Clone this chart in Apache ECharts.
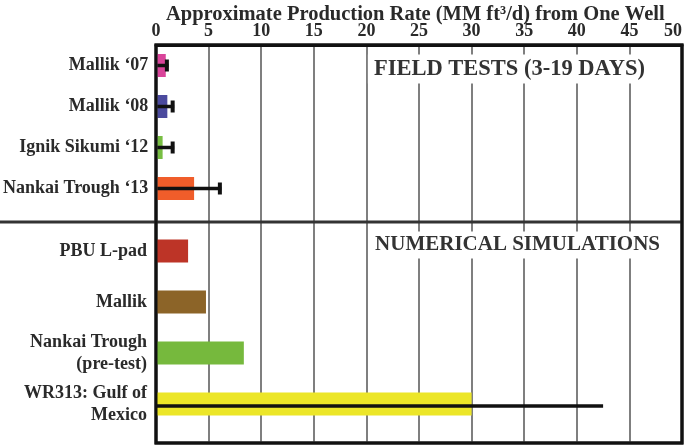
<!DOCTYPE html>
<html>
<head>
<meta charset="utf-8">
<script src="https://cdn.jsdelivr.net/npm/echarts@6/dist/echarts.min.js"></script>
<style>html,body{margin:0;padding:0;background:#fff}#c{width:685px;height:446px}</style>
</head>
<body>
<div id="c"></div>
<script>
// ---- data ----
var fieldCats = ['Mallik \u201807', 'Mallik \u201808', 'Ignik Sikumi \u201812', 'Nankai Trough \u201813'];
var fieldVals = [0.8, 0.95, 0.5, 3.5];
var fieldErrHigh = [1.05, 1.6, 1.6, 6.1];
var simCats = ['PBU L-pad', 'Mallik', 'Nankai Trough\n(pre-test)', 'WR313: Gulf of\nMexico'];
var simVals = [3.05, 4.75, 8.35, 30];
var simErrHigh = [null, null, null, 42.5];
var xTicks = [0, 5, 10, 15, 20, 25, 30, 35, 40, 45, 50];
var title = 'Approximate Production Rate (MM ft\u00B3/d) from One Well';
var panelTop = 'FIELD TESTS (3-19 DAYS)';
var panelBottom = 'NUMERICAL SIMULATIONS';

// ---- styles ----
var fieldColors = ['#d9449a', '#4b4a9e', '#78be43', '#f05d2a'];
var simColors = ['#bd3427', '#8c6428', '#76b93d', '#ece628'];
var FONT = '"Liberation Serif", "Times New Roman", serif';

function bars(vals, colors) {
  return vals.map(function (v, i) { return { value: v, itemStyle: { color: colors[i] } }; });
}
function errData(errs) {
  var out = [];
  errs.forEach(function (e, i) { if (e != null) out.push([e, i]); });
  return out;
}
function errRender(withCap, dy) {
  return function (params, api) {
    var yi = api.value(1);
    var p0 = api.coord([0, yi]);
    var p1 = api.coord([api.value(0), yi]);
    var y = p0[1] + dy;
    var children = [{
      type: 'line',
      shape: { x1: p0[0], y1: y, x2: p1[0], y2: y },
      style: { stroke: '#111', lineWidth: 3.5 }
    }];
    if (withCap) {
      children.push({
        type: 'line',
        shape: { x1: p1[0] - 1.5, y1: y - 6, x2: p1[0] - 1.5, y2: y + 6 },
        style: { stroke: '#111', lineWidth: 4 }
      });
    }
    return { type: 'group', children: children };
  };
}

var chart = echarts.init(document.getElementById('c'), null, { renderer: 'canvas' });
var catLabel = { fontFamily: FONT, fontWeight: 'bold', fontSize: 18, color: '#2a2a2a', margin: 9, lineHeight: 22 };

chart.setOption({
  backgroundColor: '#fff',
  animation: false,
  title: {
    text: title, left: 161, top: -1,
    textStyle: { fontFamily: FONT, fontWeight: 'bold', fontSize: 20.5, color: '#2a2a2a' }
  },
  grid: [
    { left: 156, right: 3, top: 45, bottom: 3, show: true, borderColor: '#111', borderWidth: 3, backgroundColor: '#fff' },
    { left: 156, right: 3, top: 45, height: 164 },
    { left: 156, right: 3, top: 225.5, height: 204 }
  ],
  xAxis: [
    {
      gridIndex: 0, type: 'value', min: 0, max: 50, interval: 5, position: 'top',
      axisLine: { show: true, onZero: false, lineStyle: { color: '#111', width: 3 } }, axisTick: { show: false },
      axisLabel: {
        fontFamily: FONT, fontWeight: 'bold', fontSize: 18, color: '#2a2a2a', margin: 5,
        alignMaxLabel: 'right',
        formatter: function (v) { return xTicks.indexOf(v) >= 0 ? String(v) : ''; }
      },
      splitLine: { show: true, lineStyle: { color: '#555', width: 1.5 } }
    },
    { gridIndex: 1, type: 'value', min: 0, max: 50, show: false },
    { gridIndex: 2, type: 'value', min: 0, max: 50, show: false }
  ],
  yAxis: [
    { gridIndex: 0, type: 'value', min: 0, max: 1, show: false },
    {
      gridIndex: 1, type: 'category', inverse: true, data: fieldCats,
      axisLine: { show: false }, axisTick: { show: false }, axisLabel: catLabel, splitLine: { show: false }
    },
    {
      gridIndex: 2, type: 'category', inverse: true, data: simCats,
      axisLine: { show: false }, axisTick: { show: false }, axisLabel: catLabel, splitLine: { show: false }
    }
  ],
  graphic: [
    { type: 'rect', shape: { x: 156, y: 45, width: 526, height: 398 }, style: { fill: null, stroke: '#111', lineWidth: 3 }, z: 20, silent: true },
    { type: 'line', shape: { x1: 0, y1: 222, x2: 682, y2: 222 }, style: { stroke: '#333', lineWidth: 3 }, z: 5 },
    {
      type: 'text', z: 10,
      style: { text: panelTop, x: 651, y: 69, align: 'right', verticalAlign: 'middle',
        font: 'bold 22.5px ' + FONT, fill: '#333', backgroundColor: '#fff', padding: [3, 6] }
    },
    {
      type: 'text', z: 10,
      style: { text: panelBottom, x: 666, y: 245, align: 'right', verticalAlign: 'middle',
        font: 'bold 21px ' + FONT, fill: '#333', backgroundColor: '#fff', padding: [3, 6] }
    }
  ],
  series: [
    { type: 'bar', xAxisIndex: 1, yAxisIndex: 1, barWidth: 23, data: bars(fieldVals, fieldColors), z: 3 },
    { type: 'bar', xAxisIndex: 2, yAxisIndex: 2, barWidth: 23, data: bars(simVals, simColors), z: 3 },
    { type: 'custom', xAxisIndex: 1, yAxisIndex: 1, renderItem: errRender(true, 0), data: errData(fieldErrHigh), z: 4, encode: { x: 0, y: 1 } },
    { type: 'custom', xAxisIndex: 2, yAxisIndex: 2, renderItem: errRender(false, 2), data: errData(simErrHigh), z: 4, encode: { x: 0, y: 1 } }
  ]
});
</script>
</body>
</html>
